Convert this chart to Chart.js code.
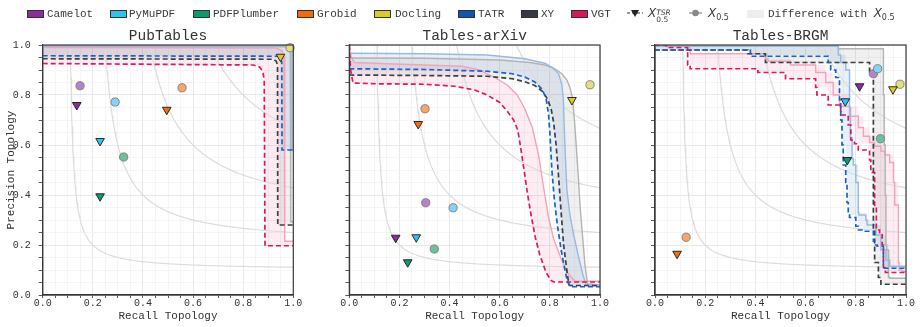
<!DOCTYPE html>
<html>
<head>
<meta charset="utf-8">
<script src="https://cdn.jsdelivr.net/npm/chart.js@4.4.1/dist/chart.umd.min.js"></script>
<style>
  html, body { margin: 0; padding: 0; background: #fff; }
  body { width: 922px; height: 327px; position: relative; overflow: hidden; font-family: 'Liberation Mono', monospace; }
  .panel { position: absolute; top: 0; height: 327px; }
  #legend { position: absolute; left: 0; top: 0; width: 922px; height: 26px; z-index: 5; font-size: 11px; color: #3a3a3a; }
  #legend .txt { position: absolute; top: 7px; line-height: 14px; white-space: nowrap; }
  #legend .box { position: absolute; top: 10px; width: 15px; height: 6px; border: 0.8px solid #333; }
  #legend svg { position: absolute; top: 8px; }
  .m { font-family: 'DejaVu Sans', sans-serif; font-style: italic; font-size: 12px; }
  .ss { display: inline-block; vertical-align: -5px; line-height: 7px; font-size: 7.5px; font-family: 'DejaVu Sans', sans-serif; }
  .sb { font-family: 'DejaVu Sans', sans-serif; font-size: 8px; vertical-align: -3px; }
</style>
</head>
<body>
<div id="legend">
  <span class="box" style="left:27px;background:#8e2aa3"></span><span class="txt" style="left:47px">Camelot</span>
  <span class="box" style="left:110px;background:#2cc3f4"></span><span class="txt" style="left:129px">PyMuPDF</span>
  <span class="box" style="left:193px;background:#0c9b6c"></span><span class="txt" style="left:213px">PDFPlumber</span>
  <span class="box" style="left:297px;background:#f66c0c"></span><span class="txt" style="left:317px">Grobid</span>
  <span class="box" style="left:374px;background:#d9cc25"></span><span class="txt" style="left:395px">Docling</span>
  <span class="box" style="left:458px;background:#0b56b6"></span><span class="txt" style="left:478px">TATR</span>
  <span class="box" style="left:521px;background:#353a42"></span><span class="txt" style="left:541px">XY</span>
  <span class="box" style="left:571px;background:#dc1459"></span><span class="txt" style="left:591px">VGT</span>
  <svg style="left:627px" width="16" height="11"><line x1="0" y1="5" x2="16" y2="5" stroke="#333" stroke-width="1.2" stroke-dasharray="3,2"/><polygon points="4,2 12,2 8,9" fill="#222"/></svg>
  <span class="txt" style="left:648px;top:6px"><span class="m">X</span><span class="ss"><i>TSR</i><br>0.5</span></span>
  <svg style="left:689px" width="13" height="11"><line x1="0" y1="5" x2="13" y2="5" stroke="#888" stroke-width="1.2"/><circle cx="6.5" cy="5" r="3.3" fill="#888"/></svg>
  <span class="txt" style="left:708px;top:6px"><span class="m">X</span><span class="sb">0.5</span></span>
  <span class="box" style="left:747px;background:#eeeeee;border-color:#eeeeee"></span><span class="txt" style="left:768px;top:6px">Difference with <span class="m">X</span><span class="sb">0.5</span></span>
</div>
<div class="panel" style="left:0;width:312px"><canvas id="c1"></canvas></div>
<div class="panel" style="left:315px;width:300px"><canvas id="c2"></canvas></div>
<div class="panel" style="left:620px;width:302px"><canvas id="c3"></canvas></div>

<script>
// tools, same order in every point array
const tools = ['Camelot', 'PyMuPDF', 'PDFPlumber', 'Grobid', 'Docling'];
const toolColors = ['#8e2aa3', '#2cc3f4', '#0c9b6c', '#f66c0c', '#d9cc25'];
const toolLight = ['#b881ca', '#80d5f5', '#66c39c', '#f8a66c', '#e6de7c'];

// iso-F1 reference levels (grey contours)
const isoF1 = [0.2, 0.4, 0.6, 0.8];

// ---- PubTables ----
const pubRecall05 = [0.149, 0.289, 0.323, 0.556, 0.987];
const pubPrec05 = [0.837, 0.772, 0.552, 0.829, 0.989];
const pubRecallTSR = [0.136, 0.229, 0.229, 0.495, 0.949];
const pubPrecTSR = [0.76, 0.616, 0.395, 0.741, 0.953];
const pubTatr05 = [[0, 0.997], [0.98, 0.997], [0.99, 0.99], [0.995, 0.975], [0.995, 0.58], [1, 0.58]];
const pubTatrTSR = [[0, 0.957], [0.94, 0.955], [0.95, 0.948], [0.954, 0.93], [0.955, 0.58], [1, 0.58]];
const pubXy05 = [[0, 0.995], [0.975, 0.993], [0.985, 0.985], [0.988, 0.97], [0.99, 0.293], [1, 0.293]];
const pubXyTSR = [[0, 0.945], [0.92, 0.943], [0.932, 0.935], [0.937, 0.92], [0.938, 0.28], [1, 0.28]];
const pubVgt05 = [[0, 0.99], [0.93, 0.988], [0.955, 0.978], [0.963, 0.955], [0.966, 0.215], [1, 0.215]];
const pubVgtTSR = [[0, 0.926], [0.84, 0.92], [0.865, 0.912], [0.878, 0.895], [0.884, 0.86], [0.887, 0.197], [1, 0.197]];

// ---- Tables-arXiv ----
const arxRecall05 = [0.305, 0.414, 0.339, 0.302, 0.96];
const arxPrec05 = [0.369, 0.349, 0.184, 0.745, 0.841];
const arxRecallTSR = [0.185, 0.267, 0.233, 0.275, 0.888];
const arxPrecTSR = [0.229, 0.231, 0.131, 0.684, 0.78];
const arxTatr05 = [[0, 0.967], [0.3, 0.965], [0.55, 0.96], [0.7, 0.945], [0.78, 0.927], [0.81, 0.91], [0.835, 0.885], [0.848, 0.84], [0.854, 0.78], [0.857, 0.68], [0.862, 0.55], [0.868, 0.42], [0.88, 0.32], [0.895, 0.24], [0.915, 0.15], [0.932, 0.08], [0.945, 0.04], [1, 0.035]];
const arxTatrTSR = [[0, 0.905], [0.3, 0.902], [0.55, 0.895], [0.65, 0.885], [0.7, 0.872], [0.74, 0.852], [0.77, 0.822], [0.785, 0.785], [0.795, 0.72], [0.8, 0.65], [0.808, 0.5], [0.818, 0.38], [0.83, 0.28], [0.845, 0.18], [0.86, 0.1], [0.87, 0.055], [0.88, 0.033], [1, 0.033]];
const arxXy05 = [[0, 0.948], [0.3, 0.947], [0.6, 0.94], [0.72, 0.93], [0.78, 0.92], [0.82, 0.905], [0.848, 0.885], [0.868, 0.86], [0.88, 0.83], [0.89, 0.79], [0.898, 0.7], [0.905, 0.6], [0.913, 0.48], [0.921, 0.35], [0.93, 0.24], [0.94, 0.12], [0.95, 0.045], [1, 0.04]];
const arxXyTSR = [[0, 0.88], [0.3, 0.878], [0.55, 0.875], [0.65, 0.865], [0.7, 0.853], [0.74, 0.838], [0.77, 0.815], [0.79, 0.785], [0.805, 0.745], [0.815, 0.69], [0.825, 0.6], [0.835, 0.47], [0.845, 0.33], [0.855, 0.2], [0.865, 0.12], [0.875, 0.045], [0.88, 0.038], [1, 0.038]];
const arxVgt05 = [[0, 1], [0.005, 0.96], [0.02, 0.93], [0.15, 0.925], [0.45, 0.915], [0.52, 0.9], [0.58, 0.87], [0.63, 0.84], [0.67, 0.8], [0.7, 0.745], [0.73, 0.67], [0.755, 0.56], [0.775, 0.43], [0.795, 0.31], [0.815, 0.225], [0.845, 0.145], [0.87, 0.09], [0.9, 0.055], [1, 0.055]];
const arxVgtTSR = [[0, 1], [0.005, 0.9], [0.015, 0.848], [0.1, 0.845], [0.3, 0.843], [0.42, 0.835], [0.5, 0.82], [0.55, 0.8], [0.6, 0.77], [0.63, 0.735], [0.655, 0.7], [0.672, 0.66], [0.685, 0.58], [0.697, 0.5], [0.71, 0.41], [0.725, 0.32], [0.742, 0.23], [0.76, 0.16], [0.785, 0.09], [0.805, 0.058], [0.815, 0.052], [1, 0.052]];

// ---- Tables-BRGM (step curves) ----
const brgRecall05 = [0.87, 0.887, 0.898, 0.124, 0.976];
const brgPrec05 = [0.885, 0.905, 0.625, 0.231, 0.843];
const brgRecallTSR = [0.815, 0.758, 0.766, 0.088, 0.948];
const brgPrecTSR = [0.835, 0.775, 0.54, 0.165, 0.823];
const brgTatr05 = [[0, 1], [0.73, 0.995], [0.74, 0.96], [0.76, 0.93], [0.775, 0.9], [0.778, 0.75], [0.785, 0.63], [0.79, 0.545], [0.8, 0.52], [0.81, 0.45], [0.812, 0.33], [0.84, 0.32], [0.845, 0.3], [0.88, 0.28], [0.9, 0.24], [0.92, 0.18], [0.935, 0.14], [0.94, 0.115], [1, 0.115]];
const brgTatrTSR = [[0, 0.985], [0.38, 0.98], [0.38, 0.96], [0.69, 0.955], [0.7, 0.93], [0.72, 0.9], [0.735, 0.87], [0.74, 0.78], [0.745, 0.7], [0.75, 0.6], [0.76, 0.52], [0.765, 0.45], [0.77, 0.37], [0.775, 0.32], [0.8, 0.31], [0.81, 0.275], [0.83, 0.26], [0.87, 0.255], [0.875, 0.215], [0.885, 0.2], [0.91, 0.195], [0.915, 0.107], [1, 0.107]];
const brgXy05 = [[0, 1], [0.47, 1], [0.47, 0.995], [0.73, 0.995], [0.73, 0.985], [0.91, 0.985], [0.913, 0.8], [0.917, 0.6], [0.92, 0.4], [0.923, 0.2], [0.93, 0.18], [0.935, 0.07], [1, 0.067]];
const brgXyTSR = [[0, 0.98], [0.37, 0.98], [0.37, 0.965], [0.44, 0.965], [0.44, 0.93], [0.855, 0.93], [0.855, 0.89], [0.87, 0.89], [0.87, 0.26], [0.875, 0.26], [0.875, 0.13], [0.89, 0.13], [0.89, 0.07], [0.9, 0.07], [0.9, 0.043], [1, 0.043]];
const brgVgt05 = [[0, 1], [0.14, 1], [0.14, 0.965], [0.44, 0.965], [0.45, 0.945], [0.54, 0.935], [0.64, 0.92], [0.68, 0.89], [0.71, 0.85], [0.735, 0.8], [0.775, 0.755], [0.81, 0.715], [0.83, 0.67], [0.855, 0.635], [0.875, 0.61], [0.9, 0.595], [0.915, 0.575], [0.935, 0.56], [0.95, 0.53], [0.955, 0.45], [0.97, 0.36], [0.972, 0.13], [0.985, 0.1], [1, 0.095]];
const brgVgtTSR = [[0, 1], [0.045, 1], [0.045, 0.99], [0.13, 0.99], [0.14, 0.92], [0.155, 0.905], [0.41, 0.905], [0.41, 0.89], [0.52, 0.89], [0.52, 0.865], [0.64, 0.865], [0.645, 0.83], [0.69, 0.8], [0.74, 0.76], [0.77, 0.72], [0.78, 0.68], [0.795, 0.62], [0.81, 0.605], [0.855, 0.58], [0.86, 0.54], [0.875, 0.49], [0.882, 0.35], [0.895, 0.26], [0.905, 0.25], [0.91, 0.2], [0.918, 0.11], [0.92, 0.09], [1, 0.09]];

const models = [
    { name: 'TATR', dash: '#1663c7', solid: '#95bae4', band: 'rgba(20, 90, 180, 0.09)' },
    { name: 'XY', dash: '#3c3f46', solid: '#b3b3b3', band: 'rgba(60, 65, 75, 0.08)' },
    { name: 'VGT', dash: '#e2165e', solid: '#f1a4bc', band: 'rgba(225, 30, 90, 0.08)' }
];

const FONT = 'Liberation Mono';
const isMajor = v => Math.abs(v * 5 - Math.round(v * 5)) < 1e-6;

const toPts = (rs, ps) => rs.map((r, i) => ({ x: r, y: ps[i] }));
const toXY = arr => arr.map(d => ({ x: d[0], y: d[1] }));

// iso-F1 contour: p = f*r / (2r - f)
function isoCurve(f) {
    const pts = [];
    const r0 = f * 1.1 / (2 * 1.1 - f);
    for (let k = 0; k <= 120; k++) {
        const r = r0 + (1 - r0) * Math.pow(k / 120, 2);
        pts.push({ x: r, y: f * r / (2 * r - f) });
    }
    return pts;
}

// shaded band between the X0.5 curve and the TSR curve of a model
const bandPlugin = {
    id: 'bands',
    beforeDatasetsDraw(chart) {
        const ctx = chart.ctx, a = chart.chartArea;
        const path = (i) => {
            const els = chart.getDatasetMeta(i).data;
            const stepped = chart.data.datasets[i].stepped === 'after';
            const out = [];
            els.forEach((p, k) => {
                if (stepped && k > 0) out.push([p.x, els[k - 1].y]);
                out.push([p.x, p.y]);
            });
            return out;
        };
        ctx.save();
        ctx.beginPath();
        ctx.rect(a.left, a.top, a.right - a.left, a.bottom - a.top);
        ctx.clip();
        chart.data.datasets.forEach((ds, i) => {
            if (ds.bandWith === undefined) return;
            const upper = path(i);
            const lower = path(ds.bandWith).reverse();
            ctx.beginPath();
            upper.concat(lower).forEach((p, k) => k ? ctx.lineTo(p[0], p[1]) : ctx.moveTo(p[0], p[1]));
            ctx.closePath();
            ctx.fillStyle = ds.bandColor;
            ctx.fill();
        });
        ctx.restore();
    }
};

// frame around the plot area and the panel title
const framePlugin = {
    id: 'frame',
    afterDraw(chart, args, opts) {
        const ctx = chart.ctx, a = chart.chartArea;
        ctx.save();
        ctx.strokeStyle = '#3a3a3a';
        ctx.lineWidth = 1.2;
        ctx.strokeRect(a.left, a.top, a.right - a.left, a.bottom - a.top);
        ctx.fillStyle = '#333';
        ctx.font = '14.5px "' + FONT + '"';
        ctx.textAlign = 'center';
        ctx.textBaseline = 'alphabetic';
        ctx.fillText(opts.text, (a.left + a.right) / 2, a.top - 5);
        ctx.restore();
    }
};

function axis(isX, size, showLabels, title) {
    return {
        type: 'linear', min: 0, max: 1,
        afterFit: s => { if (isX) s.height = size; else s.width = size; },
        border: { color: '#333', width: 1.2 },
        grid: {
            color: c => (c.tick && isMajor(c.tick.value)) ? '#e3e3e3' : '#f3f3f3',
            lineWidth: 0.8,
            tickLength: isX ? 3 : 4,
            tickColor: '#333'
        },
        ticks: {
            stepSize: 0.05, autoSkip: false, maxRotation: 0,
            padding: isX ? -1 : 8,
            color: '#333',
            font: { family: FONT, size: 10 },
            callback: v => (showLabels && isMajor(v)) ? v.toFixed(1) : ''
        },
        title: { display: !!title, text: title, color: '#333', font: { family: FONT, size: 11 }, padding: { top: 4, bottom: 4 } }
    };
}

function makePanel(id, opts) {
    const ds = [];
    ds.push({ data: toPts(opts.recallTSR, opts.precTSR), pointStyle: 'triangle', rotation: 180, pointRadius: 5,
        backgroundColor: toolColors, borderColor: '#1a1a1a', borderWidth: 0.9, order: 0, clip: false });
    ds.push({ data: toPts(opts.recall05, opts.prec05), pointStyle: 'circle', pointRadius: 4.1,
        backgroundColor: toolLight, borderColor: '#7a7a7a', borderWidth: 0.9, order: 0, clip: false });
    models.forEach((m, i) => {
        const solidIdx = ds.length;
        ds.push({ label: m.name, data: toXY(opts.curves05[i]), showLine: true, pointRadius: 0,
            borderColor: m.solid, borderWidth: 1.4, stepped: opts.stepped ? 'after' : false,
            order: 2, bandColor: m.band, bandWith: solidIdx + 1 });
        ds.push({ label: m.name + ' TSR', data: toXY(opts.curvesTSR[i]), showLine: true, pointRadius: 0,
            borderColor: m.dash, borderWidth: 1.7, borderDash: [5, 3], stepped: opts.stepped ? 'after' : false,
            order: 1 });
    });
    isoF1.forEach(f => ds.push({ data: isoCurve(f), showLine: true, pointRadius: 0,
        borderColor: '#dcdcdc', borderWidth: 1.2, order: 3 }));

    new Chart(document.getElementById(id), {
        type: 'scatter',
        data: { datasets: ds },
        plugins: [bandPlugin, framePlugin],
        options: {
            responsive: true,
            maintainAspectRatio: false,
            animation: false,
            events: [],
            layout: { padding: { top: 45, right: opts.padRight, left: 0, bottom: 0 } },
            plugins: {
                legend: { display: false },
                tooltip: { enabled: false },
                frame: { text: opts.title }
            },
            scales: {
                x: axis(true, 32, true, 'Recall Topology'),
                y: axis(false, opts.yWidth, opts.yLabels, opts.yLabels ? 'Precision Topology' : '')
            }
        }
    });
}

makePanel('c1', {
    title: 'PubTables', padRight: 18.7, yWidth: 42.7, yLabels: true, stepped: false,
    recall05: pubRecall05, prec05: pubPrec05, recallTSR: pubRecallTSR, precTSR: pubPrecTSR,
    curves05: [pubTatr05, pubXy05, pubVgt05], curvesTSR: [pubTatrTSR, pubXyTSR, pubVgtTSR]
});
makePanel('c2', {
    title: 'Tables-arXiv', padRight: 15, yWidth: 34.3, yLabels: false, stepped: false,
    recall05: arxRecall05, prec05: arxPrec05, recallTSR: arxRecallTSR, precTSR: arxPrecTSR,
    curves05: [arxTatr05, arxXy05, arxVgt05], curvesTSR: [arxTatrTSR, arxXyTSR, arxVgtTSR]
});
makePanel('c3', {
    title: 'Tables-BRGM', padRight: 16, yWidth: 35, yLabels: false, stepped: true,
    recall05: brgRecall05, prec05: brgPrec05, recallTSR: brgRecallTSR, precTSR: brgPrecTSR,
    curves05: [brgTatr05, brgXy05, brgVgt05], curvesTSR: [brgTatrTSR, brgXyTSR, brgVgtTSR]
});
</script>
</body>
</html>
